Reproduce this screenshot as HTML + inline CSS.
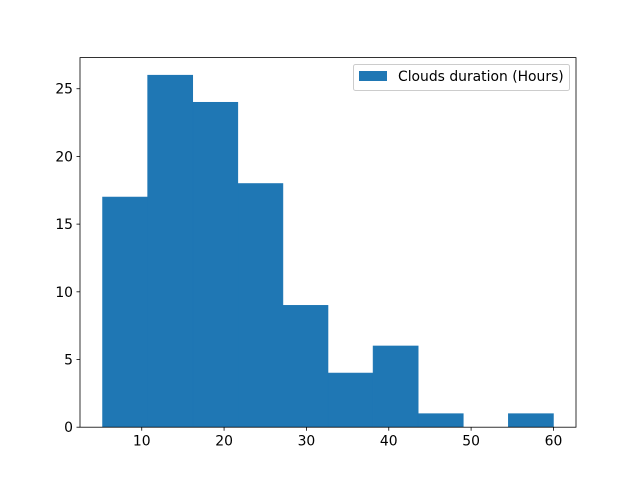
<!DOCTYPE html>
<html><head><meta charset="utf-8"><style>
body{margin:0;background:#fff}
svg text{font-family:"DejaVu Sans","Liberation Sans",sans-serif;font-size:13.9px;fill:#000}
</style></head><body>
<svg width="640" height="480" xmlns="http://www.w3.org/2000/svg">
<g id="bars"></g>
<rect x="80" y="57.6" width="496" height="369.6" fill="none" stroke="#000" stroke-width="0.8"/>
<g id="xt"></g>
<g id="yt"></g>
<g>
<rect x="353.5" y="64.5" width="216" height="26" rx="2" fill="#fff" fill-opacity="0.8" stroke="#ccc"/>
<rect x="359" y="71" width="28" height="10" fill="#1f77b4"/>
<text x="398" y="81">Clouds duration (Hours)</text>
</g>
</svg>
<script>
const counts=[17,26,24,18,9,4,6,1,0,1];
const binStart=5.24, binEnd=60;
const xTicks=[10,20,30,40,50,60];
const yTicks=[0,5,10,15,20,25];
const X0=80,X1=576,Y0=427.2,Y1=57.6;
const span=binEnd-binStart, xmin=binStart-span*0.05, xmax=binEnd+span*0.05;
const ymax=Math.max(...counts)*1.05;
const sx=v=>X0+(v-xmin)/(xmax-xmin)*(X1-X0);
const sy=v=>Y0-v/ymax*(Y0-Y1);
const NS="http://www.w3.org/2000/svg";
function mk(t,a,p){const e=document.createElementNS(NS,t);for(const k in a)e.setAttribute(k,a[k]);p.appendChild(e);return e;}
const bars=document.getElementById('bars');
const w=span/counts.length;
counts.forEach((c,i)=>{
 const a=sx(binStart+i*w),b=sx(binStart+(i+1)*w);
 const r=mk('rect',{x:a,y:sy(c),width:b-a,height:Y0-sy(c),fill:'#1f77b4',stroke:'#1f77b4','stroke-width':0.6},bars);
 
 
});
const xt=document.getElementById('xt');
xTicks.forEach(v=>{
 const x=sx(v);
 const l=mk('line',{x1:x,x2:x,y1:Y0,y2:Y0+3.5,stroke:'#000','stroke-width':0.8},xt);
 
 
 const t=mk('text',{x:x,y:Y0+18.5,'text-anchor':'middle'},xt);t.textContent=v;
 
 
});
const yt=document.getElementById('yt');
yTicks.forEach(v=>{
 const y=sy(v);
 const l=mk('line',{x1:X0-3.5,x2:X0,y1:y,y2:y,stroke:'#000','stroke-width':0.8},yt);
 
 
 const t=mk('text',{x:X0-7,y:y+5,'text-anchor':'end'},yt);t.textContent=v;
 
 
});
</script>
</body></html>
